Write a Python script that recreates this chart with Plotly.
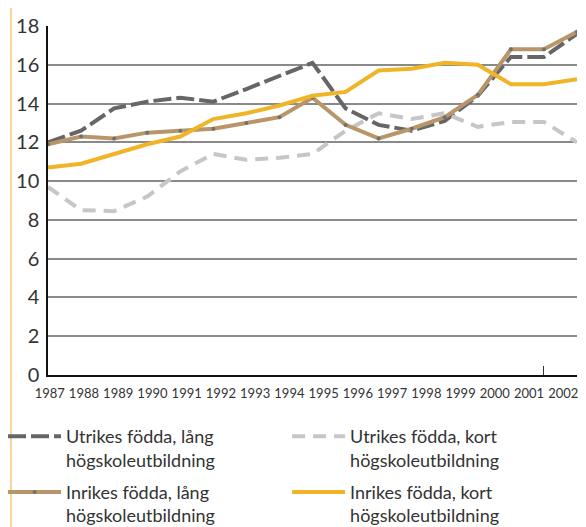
import plotly.graph_objects as go

# Data (17 points per series)
idx = list(range(17))
utrikes_lang = [12.0, 12.6, 13.75, 14.1, 14.3, 14.1, 14.75, 15.4, 16.1, 13.75, 12.9, 12.6, 13.1, 14.4, 16.4, 16.4, 17.6]
utrikes_kort = [9.7, 8.5, 8.45, 9.2, 10.5, 11.4, 11.1, 11.2, 11.4, 12.6, 13.5, 13.2, 13.5, 12.8, 13.05, 13.05, 12.0]
inrikes_lang = [11.9, 12.3, 12.2, 12.5, 12.6, 12.7, 13.0, 13.3, 14.3, 12.9, 12.2, 12.7, 13.3, 14.45, 16.8, 16.8, 17.7]
inrikes_kort = [10.7, 10.9, 11.4, 11.9, 12.3, 13.2, 13.5, 13.9, 14.4, 14.6, 15.7, 15.8, 16.1, 16.0, 15.0, 15.0, 15.25]

year_labels = [1987, 1988, 1989, 1990, 1991, 1992, 1993, 1994, 1995, 1996, 1997, 1998, 1999, 2000, 2001, 2002]
y_ticks = [0, 2, 4, 6, 8, 10, 12, 14, 16, 18]

names = ["Utrikes födda, lång<br>högskoleutbildning",
         "Utrikes födda, kort<br>högskoleutbildning",
         "Inrikes födda, lång<br>högskoleutbildning",
         "Inrikes födda, kort<br>högskoleutbildning"]

FONT = "Lato, 'Open Sans', sans-serif"
fig = go.Figure()

fig.add_trace(go.Scatter(x=idx, y=utrikes_lang, name=names[0], mode="lines",
                         legend="legend", legendgroup="a",
                         line=dict(color="#666666", width=4, dash="18px,5px")))
fig.add_trace(go.Scatter(x=idx, y=utrikes_kort, name=names[1], mode="lines",
                         legend="legend2", legendgroup="b",
                         line=dict(color="#c6c6c6", width=4, dash="13px,8px")))
fig.add_trace(go.Scatter(x=idx, y=inrikes_lang, name=names[2], mode="lines+markers",
                         legend="legend", legendgroup="c",
                         line=dict(color="#b8966a", width=4),
                         marker=dict(color="#707070", size=4)))
fig.add_trace(go.Scatter(x=idx, y=inrikes_kort, name=names[3], mode="lines",
                         legend="legend2", legendgroup="d",
                         line=dict(color="#f0b429", width=4)))

# invisible trace to activate the label axis
fig.add_trace(go.Scatter(x=[year_labels[0]], y=[None], xaxis="x2", showlegend=False,
                         hoverinfo="skip"))

legend_common = dict(orientation="v", yanchor="top", valign="top",
                     font=dict(size=18, family=FONT, color="#333333"),
                     itemwidth=53, traceorder="grouped", tracegroupgap=6,
                     bgcolor="rgba(0,0,0,0)")

fig.update_layout(
    width=586, height=527,
    margin=dict(l=40, r=17, t=18, b=160, autoexpand=False),
    paper_bgcolor="white", plot_bgcolor="white",
    font=dict(family=FONT, color="#333333"),
    showlegend=True,
    xaxis=dict(range=[0, 16], showgrid=False, zeroline=False,
               showline=True, linecolor="#111111", linewidth=2,
               tickmode="array", tickvals=[15], ticktext=[""],
               ticks="inside", ticklen=9, tickcolor="#333333", tickwidth=1),
    xaxis2=dict(overlaying="x", anchor="y", side="bottom",
                range=[1986.95, 2002.4], showgrid=False, zeroline=False,
                showline=False, tickmode="array", tickvals=year_labels,
                ticks="outside", ticklen=6, tickcolor="rgba(0,0,0,0)",
                ticklabeloverflow="allow",
                tickfont=dict(size=13, family=FONT, color="#333333")),
    yaxis=dict(range=[0, 18], tickvals=y_ticks, showgrid=True,
               gridcolor="#8a8a8a", gridwidth=1.5, zeroline=False,
               showline=True, linecolor="#111111", linewidth=1.5,
               ticks="", ticklabelstandoff=3,
               tickfont=dict(size=20, family=FONT, color="#333333")),
    legend=dict(x=-0.085, xanchor="left", y=-0.123, **legend_common),
    legend2=dict(x=0.452, xanchor="left", y=-0.123, **legend_common),
)

fig.add_shape(type="line", xref="paper", yref="paper", x0=-0.07, x1=-0.07,
              y0=-0.46, y1=1.06, line=dict(color="#f6c778", width=1.5))

fig.write_html("out.html")
